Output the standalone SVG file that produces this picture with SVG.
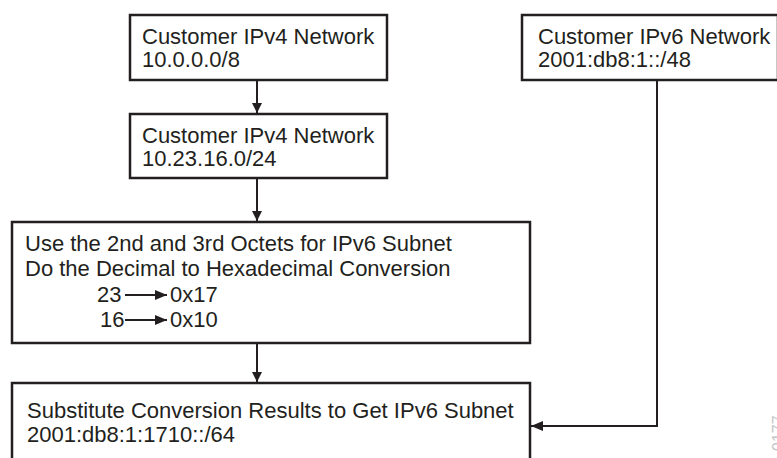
<svg xmlns="http://www.w3.org/2000/svg" width="777" height="458" viewBox="0 0 777 458">
<defs>
<style>
.box{fill:#fff;stroke:#231f20;stroke-width:2.5}
.t{font-family:"Liberation Sans",Arial,sans-serif;font-size:22px;fill:#231f20}
.c{stroke:#231f20;stroke-width:2;fill:none}
.wm{font-family:"Liberation Sans",Arial,sans-serif;font-size:16px;fill:#c4c4c4}
</style>
<marker id="ah" viewBox="0 0 10 10" refX="10" refY="5" markerWidth="10" markerHeight="10" markerUnits="userSpaceOnUse" orient="auto">
<path d="M0,0 L10,5 L0,10 z" fill="#231f20"/>
</marker>
<marker id="ah2" viewBox="0 0 12 10" refX="12" refY="5" markerWidth="12" markerHeight="10" markerUnits="userSpaceOnUse" orient="auto">
<path d="M0,0 L12,5 L0,10 z" fill="#231f20"/>
</marker>
</defs>
<g id="ipv4-8">
<rect class="box" x="130" y="15" width="257" height="65"/>
<text class="t" x="142" y="44">Customer IPv4 Network</text>
<text class="t" x="142" y="67">10.0.0.0/8</text>
</g>
<g id="ipv4-24">
<rect class="box" x="130" y="114" width="257" height="64"/>
<text class="t" x="142" y="143">Customer IPv4 Network</text>
<text class="t" x="142" y="166">10.23.16.0/24</text>
</g>
<g id="ipv6-48">
<rect class="box" x="522" y="15" width="256" height="65"/>
<text class="t" x="538" y="44">Customer IPv6 Network</text>
<text class="t" x="538" y="67">2001:db8:1::/48</text>
</g>
<g id="convert">
<rect class="box" x="12" y="222" width="518" height="121"/>
<text class="t" x="25" y="251">Use the 2nd and 3rd Octets for IPv6 Subnet</text>
<text class="t" x="25" y="276">Do the Decimal to Hexadecimal Conversion</text>
<text class="t" x="97" y="302">23</text>
<line class="c" x1="125" y1="295" x2="167" y2="295" marker-end="url(#ah2)"/>
<text class="t" x="170" y="302">0x17</text>
<text class="t" x="100" y="327">16</text>
<line class="c" x1="125" y1="320" x2="167" y2="320" marker-end="url(#ah2)"/>
<text class="t" x="170" y="327">0x10</text>
</g>
<g id="result">
<rect class="box" x="12" y="383" width="518" height="80"/>
<text class="t" x="27" y="418">Substitute Conversion Results to Get IPv6 Subnet</text>
<text class="t" x="27" y="442">2001:db8:1:1710::/64</text>
</g>
<g id="connectors">
<line class="c" x1="257" y1="80" x2="257" y2="113" marker-end="url(#ah)"/>
<line class="c" x1="257" y1="178" x2="257" y2="221" marker-end="url(#ah)"/>
<line class="c" x1="257" y1="343" x2="257" y2="382" marker-end="url(#ah)"/>
<polyline class="c" points="657,80 657,426 531,426" marker-end="url(#ah2)"/>
</g>
<text class="wm" transform="translate(784,451) rotate(-90)" x="0" y="0">0177</text>
</svg>
